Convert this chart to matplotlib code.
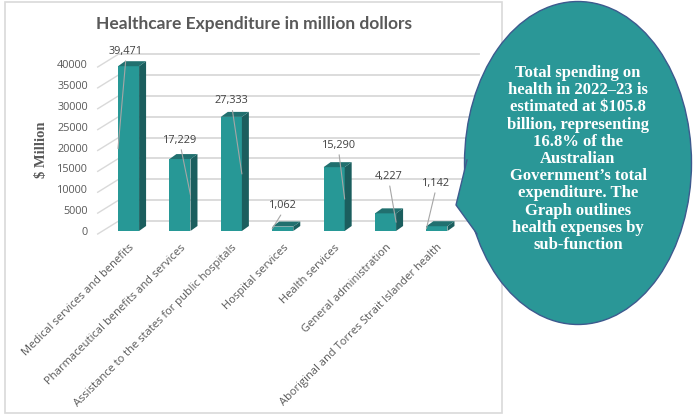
import matplotlib
matplotlib.use("Agg")
import matplotlib.pyplot as plt
from matplotlib.patches import Polygon, Ellipse, Rectangle
from matplotlib.lines import Line2D

categories = ["Medical services and benefits", "Pharmaceutical benefits and services",
              "Assistance to the states for public hospitals", "Hospital services",
              "Health services", "General administration",
              "Aboriginal and Torres Strait Islander health"]
values = [39471, 17229, 27333, 1062, 15290, 4227, 1142]
yticks = [0, 5000, 10000, 15000, 20000, 25000, 30000, 35000, 40000]

# label placement (pixels from bar top) and which edge the leader line hits
label_dx = [-2.5, 0.5, 0.5, 0.5, 4.5, 3.5, -1]
label_dy = [15, 19, 16, 21, 22, 37, 43]
leader_side = [-1, 1, 1, -1, 1, 1, -1]

callout = ("Total spending on\nhealth in 2022\u201323 is\nestimated at $105.8\n"
           "billion, representing\n16.8% of the\nAustralian\nGovernment\u2019s total\n"
           "expenditure. The\nGraph outlines\nhealth expenses by\nsub-function")

W, H = 699, 418
front = "#279896"
side = "#1b5e5e"
top = "#21706f"
grid = "#d9d9d9"
txt = "#595959"

fig = plt.figure(figsize=(W / 100, H / 100), dpi=100)

# chart frame
fig.patches.append(Rectangle((5 / W, (H - 413) / H), 497 / W, 411 / H, transform=fig.transFigure,
                             fill=False, edgecolor=grid, lw=1.2))

ax = fig.add_axes([97.7 / W, (H - 231) / H, 359.8 / W, 167 / H])
ax.set_xlim(-0.6, 6.4)
ax.set_ylim(0, 40000)
for s in ax.spines.values():
    s.set_visible(False)
ax.patch.set_alpha(0)

# pixel -> data conversions
p0 = ax.transData.transform((0, 0))
p1 = ax.transData.transform((1, 10000))
ux = p1[0] - p0[0]
uy = (p1[1] - p0[1]) / 10000

# back wall gridlines with perspective offset
gdx, gdy = 21 / ux, 10 / uy
xl, xr = -0.6, 6.4
for t in yticks:
    ax.add_line(Line2D([xl + gdx, xr + gdx], [t + gdy, t + gdy], color=grid, lw=1.3, clip_on=False, zorder=0))
    ax.add_line(Line2D([xl, xl + gdx], [t - 3 / uy, t + gdy], color=grid, lw=1.0, clip_on=False, zorder=0))

x = list(range(len(values)))
w = 0.41
bdx, bdy = 7 / ux, 5 / uy
ax.bar(x, values, width=w, color=front, zorder=3)
for xi, v in zip(x, values):
    ax.add_patch(Polygon([(xi + w / 2, 0), (xi + w / 2 + bdx, bdy), (xi + w / 2 + bdx, v + bdy), (xi + w / 2, v)],
                         closed=True, facecolor=side, edgecolor="none", zorder=3, clip_on=False))
    ax.add_patch(Polygon([(xi - w / 2, v), (xi + w / 2, v), (xi + w / 2 + bdx, v + bdy), (xi - w / 2 + bdx, v + bdy)],
                         closed=True, facecolor=top, edgecolor="none", zorder=3, clip_on=False))

for xi, v, ldx, ldy, sd in zip(x, values, label_dx, label_dy, leader_side):
    ax.annotate(f"{v:,}", xy=(xi + sd * w / 2, v / 2), xytext=(xi + ldx / ux, v + ldy / uy),
                ha="center", va="center", fontsize=7.8, color="#404040", family="Open Sans",
                arrowprops=dict(arrowstyle="-", color="#a6a6a6", lw=0.8, shrinkA=1, shrinkB=0, relpos=(0.5, 0)),
                zorder=5, annotation_clip=False)

ax.set_yticks(yticks)
ax.set_yticklabels([str(t) for t in yticks], family="Open Sans", fontsize=7.8, color=txt)
ax.set_xticks(x)
ax.set_xticklabels(categories, rotation=45, ha="right", rotation_mode="anchor",
                   family="Open Sans", fontsize=8, color=txt)
ax.tick_params(axis="both", length=0)
ax.tick_params(axis="y", pad=7)
ax.tick_params(axis="x", pad=8)

fig.text(253.5 / W, (H - 24) / H, "Healthcare Expenditure in million dollors", ha="center", va="center",
         fontsize=12.5, fontweight="bold", color=txt, family="Lato")
fig.text(42 / W, (H - 150) / H, "$ Million", rotation=90, ha="center", va="center",
         fontsize=10.5, fontweight="bold", color=txt, family="Liberation Serif")

# speech bubble
cx, cy, ew, eh = 578, 163, 227, 323
bubble = "#2a9797"
edge = "#3d5a8e"
fig.patches.append(Ellipse((cx / W, (H - cy) / H), ew / W, eh / H, transform=fig.transFigure,
                           facecolor=bubble, edgecolor=edge, lw=1.0, zorder=1))
ptr = [(467, 160), (456, 205), (477, 234), (490, 234), (490, 160)]
fig.patches.append(Polygon([(px / W, (H - py) / H) for px, py in ptr], closed=True, transform=fig.transFigure,
                           facecolor=bubble, edgecolor="none", zorder=2))
fig.lines.append(Line2D([467 / W, 456 / W, 477 / W], [(H - 160) / H, (H - 205) / H, (H - 234) / H],
                        transform=fig.transFigure, color=edge, lw=1.0, zorder=3))
fig.text(578 / W, (H - 159) / H, callout, ha="center", va="center", fontsize=12, fontweight="bold",
         color="white", family="Liberation Serif", linespacing=1.1, zorder=4)

fig.savefig("out.png", dpi=100)
